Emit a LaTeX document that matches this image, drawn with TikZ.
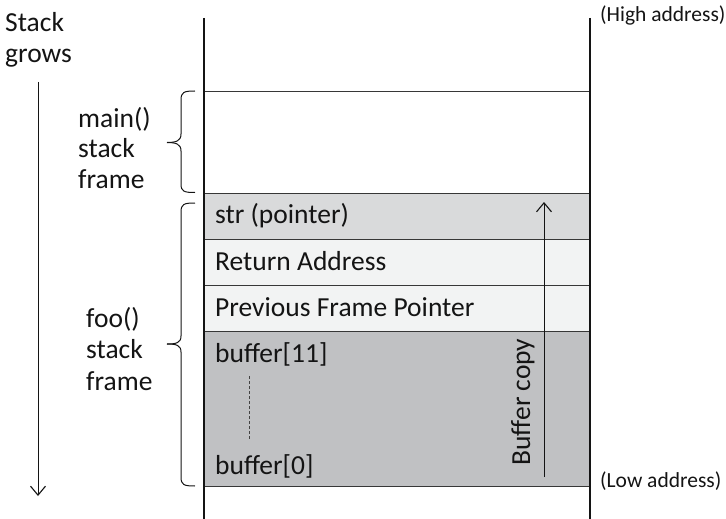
\documentclass[tikz,border=0pt]{standalone}
\usepackage{fontspec}
\setmainfont{Carlito}
\usetikzlibrary{arrows.meta}
\definecolor{ink}{HTML}{141414}
\definecolor{rowA}{HTML}{D9DADB}
\definecolor{rowB}{HTML}{F2F3F3}
\definecolor{rowC}{HTML}{C0C1C3}
\tikzset{
  lbl/.style={font=\fontsize{27.5}{32}\selectfont, text=ink, inner sep=0pt, anchor=base west},
  addr/.style={font=\fontsize{21.5}{25}\selectfont, text=ink, inner sep=0pt, anchor=base west},
  rowbox/.style={draw=ink!85, line width=0.8pt, minimum width=386pt, inner sep=0pt, anchor=north west},
  wall/.style={draw=ink, line width=1.2pt},
  brace/.style={draw=ink, line width=1pt},
  tip/.style={-{Straight Barb[length=9pt,width=15pt,line width=1.1pt]}, draw=ink, line width=1pt}
}
\begin{document}
\begin{tikzpicture}[x=1pt,y=-1pt]
\useasboundingbox (0,0) rectangle (726,519);
% rows
\node[rowbox, fill=rowA, minimum height=46pt] (strrow) at (204,193) {};
\node[rowbox, fill=rowB, minimum height=46pt] (retrow) at (204,239) {};
\node[rowbox, fill=rowB, minimum height=46pt] (pfprow) at (204,285) {};
\node[rowbox, fill=rowC, minimum height=155pt] (bufrow) at (204,331) {};
\coordinate (mainL) at (204,91);
\coordinate (mainR) at (590,91);
\draw[draw=ink!85, line width=0.8pt] (mainL) -- (mainR);
% walls
\coordinate (wallLt) at (204,18);
\coordinate (wallLb) at (204,519);
\coordinate (wallRt) at (590,18);
\coordinate (wallRb) at (590,519);
\draw[wall] (wallLt) -- (wallLb);
\draw[wall] (wallRt) -- (wallRb);
% row texts
\node[lbl] (tstr) at (215,223) {str (pointer)};
\node[lbl] (tret) at (215,270) {Return Address};
\node[lbl] (tpfp) at (215,316) {Previous Frame Pointer};
\node[lbl] (tb11) at (215,362) {buffer[11]};
\node[lbl] (tb0) at (215,474) {buffer[0]};
\coordinate (dashT) at (249.5,376);
\coordinate (dashB) at (249.5,440);
\draw[ink!80, line width=0.7pt, dash pattern=on 3pt off 2pt] (dashT) -- (dashB);
% buffer copy arrow
\coordinate (bcS) at (544,477);
\coordinate (bcE) at (544,202);
\draw[tip] (bcS) -- (bcE);
\node[font=\fontsize{27.5}{32}\selectfont, text=ink, inner sep=0pt, rotate=90, anchor=base] (tbc) at (530,402) {Buffer copy};
% address labels
\node[addr] (hi) at (600,22) {(High address)};
\node[addr] (lo) at (600,487) {(Low address)};
% stack grows
\node[lbl] (sg1) at (5,32) {Stack};
\node[lbl] (sg2) at (5,63) {grows};
\coordinate (sgS) at (38,82);
\coordinate (sgE) at (38,496);
\draw[tip] (sgS) -- (sgE);
% main frame label
\node[lbl] (m1) at (78,127) {main()};
\node[lbl] (m2) at (78,157) {stack};
\node[lbl] (m3) at (78,188) {frame};
\draw[brace] (195,91) .. controls (184,91) and (181,92) .. (181,100) -- (181,134)
  .. controls (181,141) and (176,142.5) .. (167,142.5);
\draw[brace] (167,142.5) .. controls (176,142.5) and (181,144) .. (181,151) -- (181,184)
  .. controls (181,191.5) and (184,192.5) .. (195,192.5);
% foo frame label
\node[lbl] (f1) at (86,327) {foo()};
\node[lbl] (f2) at (86,358) {stack};
\node[lbl] (f3) at (86,390) {frame};
\draw[brace] (195,203) .. controls (184,203) and (181,204) .. (181,212) -- (181,336)
  .. controls (181,343) and (176,344) .. (167,344);
\draw[brace] (167,344) .. controls (176,344) and (181,345) .. (181,352) -- (181,477)
  .. controls (181,485) and (184,486) .. (195,486);
\end{tikzpicture}
\end{document}
